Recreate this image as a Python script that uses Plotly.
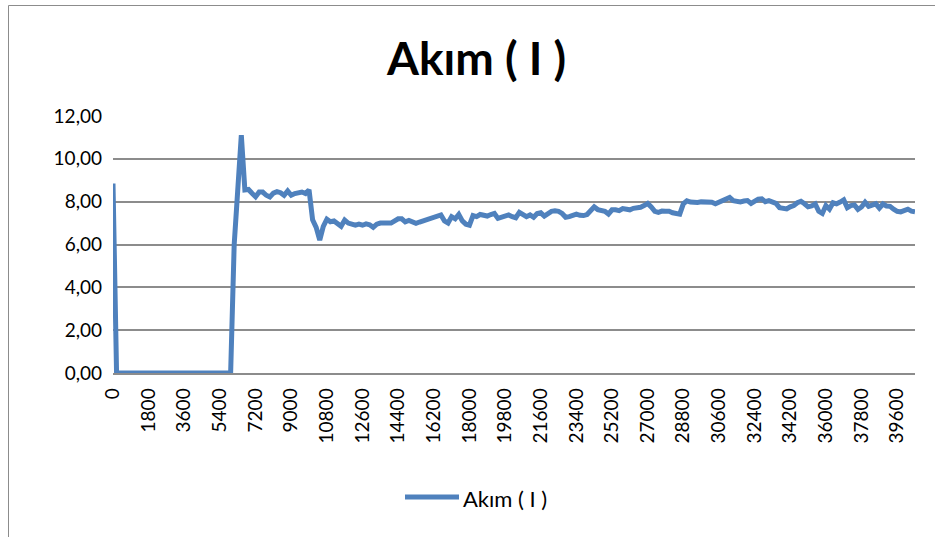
import plotly.graph_objects as go

# Sample times (s), one reading every 180 s
zaman = list(range(0, 40501, 180))

# Current readings (A)
akim = [
    8.85,
    0.00, 0.00, 0.00, 0.00, 0.00, 0.00, 0.00, 0.00, 0.00, 0.00, 0.00,
    0.00, 0.00, 0.00, 0.00, 0.00, 0.00, 0.00, 0.00, 0.00, 0.00, 0.00,
    0.00, 0.00, 0.00, 0.00, 0.00, 0.00, 0.00, 0.00, 0.00, 0.00, 0.00,
    6.00, 8.50, 11.10,
    8.55, 8.57, 8.39, 8.23, 8.45, 8.45, 8.30, 8.22, 8.40, 8.47, 8.42,
    8.30, 8.50, 8.30, 8.38, 8.42, 8.45, 8.38, 8.55, 7.15, 6.80, 6.21,
    6.85, 7.18, 7.06, 7.10, 6.95, 6.85, 7.14, 7.00, 6.95, 6.90, 6.95,
    6.90, 6.96, 6.92, 6.80, 6.95, 7.00, 6.98, 7.00, 7.00, 7.10, 7.20,
    7.20, 7.06, 7.12, 7.05, 6.99, 7.05, 7.10, 7.15, 7.20, 7.27, 7.33,
    7.38, 7.10, 7.00, 7.30, 7.20, 7.40, 7.10, 6.95, 6.90, 7.35, 7.30,
    7.40, 7.35, 7.33, 7.40, 7.45, 7.22, 7.28, 7.33, 7.38, 7.30, 7.25,
    7.50, 7.40, 7.30, 7.38, 7.27, 7.45, 7.48, 7.33, 7.45, 7.55, 7.57,
    7.55, 7.45, 7.27, 7.30, 7.35, 7.42, 7.36, 7.35, 7.40, 7.62, 7.76,
    7.63, 7.60, 7.55, 7.42, 7.62, 7.62, 7.58, 7.68, 7.62, 7.62, 7.69,
    7.70, 7.74, 7.82, 7.92, 7.75, 7.55, 7.50, 7.56, 7.55, 7.55, 7.48,
    7.45, 7.42, 7.90, 8.04, 7.98, 7.95, 7.96, 7.99, 7.99, 7.98, 7.97,
    7.90, 7.98, 8.04, 8.18, 8.20, 8.05, 8.00, 7.99, 8.03, 8.05, 7.92,
    8.03, 8.12, 8.13, 8.00, 8.05, 8.00, 7.92, 7.72, 7.66, 7.66, 7.76,
    7.82, 7.95, 8.02, 7.90, 7.76, 7.80, 7.89, 7.55, 7.45, 7.82, 7.65,
    7.95, 7.90, 7.98, 8.08, 7.72, 7.82, 7.85, 7.64, 7.75, 7.97, 7.78,
    7.82, 7.90, 7.70, 7.89, 7.80, 7.78, 7.65, 7.55, 7.52, 7.57, 7.65,
    7.56, 7.53,
]

x_tick_vals = list(range(0, 39601, 1800))
x_tick_text = [str(v) for v in x_tick_vals]
y_tick_vals = [0, 2, 4, 6, 8, 10, 12]

seri_adi = "Akım ( I )"
baslik = "Akım ( I )"

W, H = 935, 537
L, R, T, B = 113, 20, 116, 164
PW, PH = W - L - R, H - T - B


def px(x):
    return (x - L) / PW


def py(y):
    return (H - B - y) / PH


BLUE = "#4F81BD"
GRID = "#8C8C8C"
FONT = "Lato, 'Liberation Sans', Arial, sans-serif"

fig = go.Figure()
fig.add_trace(go.Scatter(
    x=zaman, y=akim, mode="lines", name=seri_adi,
    line=dict(color=BLUE, width=5),
    showlegend=False, hoverinfo="x+y",
))

fig.update_layout(
    width=W, height=H,
    margin=dict(l=L, r=R, t=T, b=B, autoexpand=False),
    paper_bgcolor="white", plot_bgcolor="white",
    separators=",.",
    font=dict(family=FONT, color="#000000", size=18),
    xaxis=dict(
        range=[0, zaman[-1]], tickmode="array",
        tickvals=x_tick_vals, ticktext=x_tick_text,
        tickangle=-90, showgrid=False, zeroline=False,
        showline=True, linecolor=GRID, linewidth=1.5,
        ticks="", ticklabelstandoff=6,
        tickfont=dict(family=FONT, size=19, color="#000000"),
    ),
    yaxis=dict(
        range=[0, 12], tickmode="array", tickvals=y_tick_vals,
        tickformat=".2f", showgrid=True, gridcolor=GRID, gridwidth=1.5,
        zeroline=False, showline=False, ticks="", ticklabelstandoff=10,
        tickfont=dict(family=FONT, size=19, color="#000000"),
    ),
    annotations=[
        dict(text="<b>" + baslik + "</b>", xref="paper", yref="paper",
             x=px(476), y=py(58), xanchor="center", yanchor="middle",
             showarrow=False, font=dict(family=FONT, size=46, color="#000000")),
        dict(text=seri_adi, xref="paper", yref="paper",
             x=px(461), y=py(498), xanchor="left", yanchor="middle",
             showarrow=False, font=dict(family=FONT, size=22, color="#000000")),
    ],
    shapes=[
        # legend key
        dict(type="line", xref="paper", yref="paper",
             x0=px(405), x1=px(459), y0=py(497), y1=py(497),
             line=dict(color=BLUE, width=5)),
        # chart area border
        dict(type="rect", xref="paper", yref="paper",
             x0=px(8.5), x1=px(W + 20), y0=py(5.5), y1=py(H + 20),
             line=dict(color="#8C8C8C", width=1)),
    ],
)

fig.write_html("out.html")
